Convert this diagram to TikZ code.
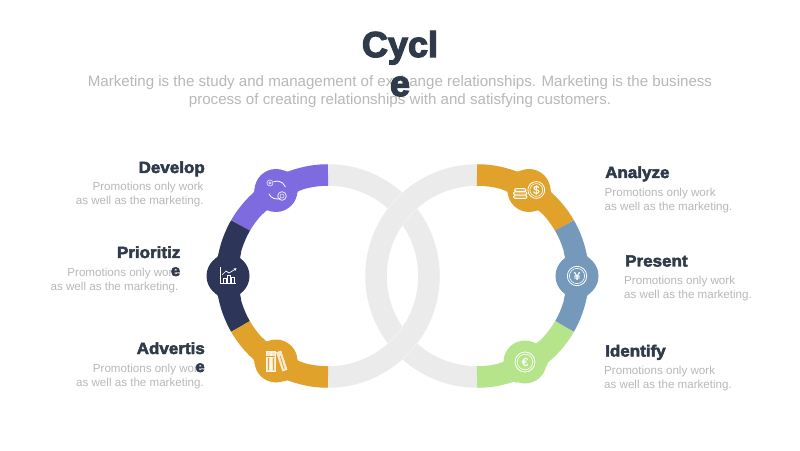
\documentclass[tikz,border=0pt]{standalone}
\usepackage{fontspec}
\setmainfont{Liberation Sans}
\usetikzlibrary{positioning}
\definecolor{ringgray}{HTML}{EBEBEB}
\definecolor{hairgray}{HTML}{F6F6F6}
\definecolor{headink}{HTML}{2F3A4A}
\definecolor{bodyink}{HTML}{B8B8B8}
\definecolor{lilac}{HTML}{7F6BE0}
\definecolor{navy}{HTML}{2D3558}
\definecolor{amber}{HTML}{E0A22A}
\definecolor{steel}{HTML}{7499BB}
\definecolor{lime}{HTML}{B5E48A}
\tikzstyle{ring} = [draw=ringgray, line width=21.5pt]
\tikzstyle{hair} = [draw=hairgray, line width=0.5pt]
\tikzstyle{seg} = [line width=21.5pt]
\tikzstyle{hub} = [circle, minimum size=43pt, inner sep=0pt]
\tikzstyle{icon} = [draw=white, line width=0.8pt]
\tikzstyle{glyph} = [text=white, inner sep=0pt, font=\fontsize{11.5}{12}\selectfont\addfontfeature{FakeBold=0.6}]
\tikzstyle{heading} = [inner sep=0pt, text=headink, font=\fontsize{16.2}{18}\selectfont\bfseries\addfontfeature{FakeBold=3,FakeStretch=1.05}]
\tikzstyle{blurbleft} = [inner sep=0pt, text=bodyink, align=right, font=\fontsize{11.6}{14}\selectfont]
\tikzstyle{blurbright} = [inner sep=0pt, text=bodyink, align=left, font=\fontsize{11.6}{14}\selectfont]
% small flares where a hub meets the ring
\newcommand{\hubflare}[3]{
\fill[#3, shift={(#1)}] (#2+14:111.5) .. controls (#2+10.2:111.3) .. (#2+8.5:114.5) -- (#2+8.5:100) -- (#2+14:100) -- cycle;
\fill[#3, shift={(#1)}] (#2-14:111.5) .. controls (#2-10.2:111.3) .. (#2-8.5:114.5) -- (#2-8.5:100) -- (#2-14:100) -- cycle;
\fill[#3, shift={(#1)}] (#2+15:90) .. controls (#2+11.3:90.2) .. (#2+9.5:85.7) -- (#2+9.5:100) -- (#2+15:100) -- cycle;
\fill[#3, shift={(#1)}] (#2-15:90) .. controls (#2-11.3:90.2) .. (#2-9.5:85.7) -- (#2-9.5:100) -- (#2-15:100) -- cycle;
}
\begin{document}
\begin{tikzpicture}[x=1pt, y=1pt]
\useasboundingbox (0,0) rectangle (800,450);
\fill[white] (0,0) rectangle (800,450);

% grey rings
\coordinate (lc) at (328,174);
\coordinate (rc) at (477,174);
\draw[ring] (lc) circle (101);
\draw[ring] (rc) circle (101);
\draw[hair] (rc) ++(131.9:111.5) arc (131.9:143:111.5);
\draw[hair] (rc) ++(131.9:90.3) arc (131.9:145.9:90.3);
\draw[hair] (lc) ++(-48.1:111.5) arc (-48.1:-37:111.5);
\draw[hair] (lc) ++(-48.1:90.3) arc (-48.1:-34.1:90.3);

% coloured parts
\draw[seg, lilac] (lc) ++(90:101) arc (90:150:101);
\draw[seg, navy] (lc) ++(150:101) arc (150:210:101);
\draw[seg, amber] (lc) ++(210:101) arc (210:270:101);
\draw[seg, amber] (rc) ++(90:101) arc (90:30:101);
\draw[seg, steel] (rc) ++(30:101) arc (30:-30:101);
\draw[seg, lime] (rc) ++(-30:101) arc (-30:-90:101);

\hubflare{lc}{121.3}{lilac}
\hubflare{lc}{180}{navy}
\hubflare{lc}{238.7}{amber}
\hubflare{rc}{58.7}{amber}
\hubflare{rc}{0}{steel}
\hubflare{rc}{-60.8}{lime}

\node (hubdevelop) [hub, fill=lilac] at (276,259.5) {};
\node (hubprioritize) [hub, fill=navy] at (228,174) {};
\node (hubadvertise) [hub, fill=amber] at (276,89) {};
\node (hubanalyze) [hub, fill=amber] at (529,259.5) {};
\node (hubpresent) [hub, fill=steel] at (577,174) {};
\node (hubidentify) [hub, fill=lime] at (525,88) {};

% develop icon
\draw[icon] (277,260) ++(112:9) arc (112:20:9);
\draw[icon] (277,260) ++(205:9) arc (205:292:9);
\draw[icon, draw=white!75!lilac, line width=0.7pt] (270,267) circle (3);
\draw[icon, draw=white!75!lilac, line width=0.7pt] (270,267) circle (1.2);
\draw[icon, draw=white!85!lilac] (282,254) circle (4.3);
\draw[icon, draw=white!85!lilac, line width=0.6pt] (282,254) circle (2);

% prioritize icon
\draw[icon] (220.3,183) -- (220.3,166.5) -- (236,166.5);
\draw[icon, line width=0.7pt] (223,167) rectangle (226,172);
\draw[icon, line width=0.7pt] (227,167) rectangle (230,175);
\draw[icon, line width=0.7pt] (231,167) rectangle (234,173);
\draw[icon, line width=0.7pt] (222,175) -- (226,179) -- (229,177) -- (235.5,181);
\fill[white] (236.5,181.8) -- (233.6,181.5) -- (235.4,179.2) -- cycle;

% advertise icon
\draw[icon, fill=white!75!amber, draw=white!90!amber, line width=0.5pt] (265.8,78.5) rectangle (270.2,98.5);
\draw[icon, fill=white!75!amber, draw=white!90!amber, line width=0.5pt] (270.8,78.5) rectangle (275.2,98.5);
\draw[icon, fill=white!75!amber, draw=white!90!amber, line width=0.5pt] (276.5,97.5) -- (281,99) -- (287,80.5) -- (282.5,79) -- cycle;
\draw[amber, line width=0.7pt] (268,80) -- (268,92);
\draw[amber, line width=0.7pt] (273,80) -- (273,92);
\draw[amber, line width=0.7pt] (280.2,94) -- (284.2,81);
\draw[amber, line width=0.5pt] (265.8,94) -- (275.2,94);

% analyze icon
\draw[icon, line width=0.9pt, fill=white!20!amber, rounded corners=1.5pt] (513.5,251.5) rectangle (527,255);
\draw[icon, line width=0.9pt, fill=white!20!amber, rounded corners=1.5pt] (513.5,255) rectangle (527,258.4);
\draw[icon, line width=0.9pt, fill=white!20!amber, rounded corners=1.5pt] (514.5,258.4) rectangle (526,261.5);
\draw[icon] (536.3,260) circle (8.4);
\draw[icon, line width=0.6pt] (536.3,260) circle (6.4);
\node (dollar) [glyph] at (536.3,260) {\$};

% present icon
\draw[icon] (577,174) circle (9.7);
\draw[icon, line width=0.6pt] (577,174) circle (7.6);
\node (yen) [glyph] at (577,174) {¥};

% identify icon
\draw[icon] (525,88) circle (10);
\draw[icon, line width=0.6pt] (525,88) circle (7.8);
\node (euro) [glyph] at (525,88) {€};

% texts
\node (lead) [inner sep=0pt, text=bodyink, align=center, font=\fontsize{15.1}{18}\selectfont, anchor=base] at (400,345) {Marketing is the study and management of exchange relationships. Marketing is the business\\process of creating relationships with and satisfying customers.};
\node (title) [inner sep=0pt, text=headink, align=center, font=\fontsize{36}{39}\selectfont\bfseries\addfontfeature{FakeBold=3.5}, anchor=base] at (400,354) {Cycl\\e};

\node (txtdevelop) [blurbleft, anchor=base east] at (203.7,245) {Promotions only work\hspace{3pt}\\as well as the marketing.};
\node (hdgdevelop) [heading, anchor=base east] at (205,277) {Develop};
\node (txtprioritize) [blurbleft, anchor=base east] at (178.5,159.5) {Promotions only work\hspace{1pt}\\as well as the marketing.};
\node (hdgprioritize) [heading, align=right, anchor=base east] at (180.5,174) {Prioritiz\\e};
\node (txtadvertise) [blurbleft, anchor=base east] at (204,63.5) {Promotions only work\hspace{1pt}\\as well as the marketing.};
\node (hdgadvertise) [heading, align=right, anchor=base east] at (205,78) {Advertis\\e};

\node (txtanalyze) [blurbright, anchor=base west] at (604.5,239) {Promotions only work\\as well as the marketing.};
\node (hdganalyze) [heading, anchor=base west] at (605,272) {Analyze};
\node (txtpresent) [blurbright, anchor=base west] at (624,151) {Promotions only work\\as well as the marketing.};
\node (hdgpresent) [heading, anchor=base west] at (625,183.5) {Present};
\node (txtidentify) [blurbright, anchor=base west] at (604,62) {Promotions only work\\as well as the marketing.};
\node (hdgidentify) [heading, anchor=base west] at (605,93.5) {Identify};
\end{tikzpicture}
\end{document}
